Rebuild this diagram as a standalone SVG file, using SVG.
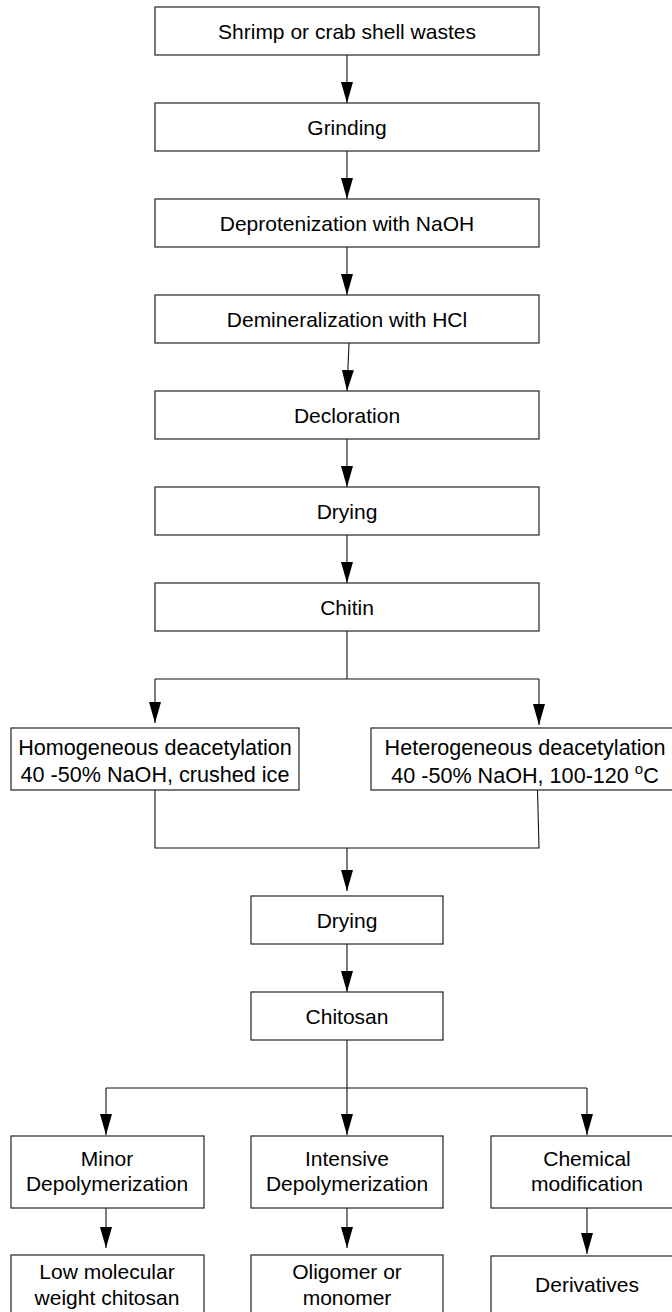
<svg xmlns="http://www.w3.org/2000/svg" width="672" height="1312" viewBox="0 0 672 1312">
<defs>
<style>
.box{fill:#fff;stroke:#333;stroke-width:1.3}
.t{font-family:"Liberation Sans",Arial,sans-serif;font-size:21px;fill:#000;text-anchor:middle}
.m{font-size:21.6px}
.c{fill:none;stroke:#111;stroke-width:1.1}
.ah{fill:#000}
</style>
<marker id="arr" markerWidth="21" markerHeight="12" refX="21" refY="6" orient="auto" markerUnits="userSpaceOnUse" viewBox="0 0 21 12">
<path d="M0,0 L21,6 L0,12 Z" class="ah"/>
</marker>
</defs>
<rect width="672" height="1312" fill="#fff"/>
<g id="connectors">
<line class="c" x1="347" y1="55" x2="347" y2="103" marker-end="url(#arr)"/>
<line class="c" x1="347" y1="151" x2="347" y2="199" marker-end="url(#arr)"/>
<line class="c" x1="347" y1="247" x2="347" y2="295" marker-end="url(#arr)"/>
<line class="c" x1="349" y1="343" x2="347" y2="391" marker-end="url(#arr)"/>
<line class="c" x1="347" y1="439" x2="347" y2="487" marker-end="url(#arr)"/>
<line class="c" x1="347" y1="535" x2="347" y2="583" marker-end="url(#arr)"/>
<polyline class="c" points="347,631 347,679"/>
<polyline class="c" points="155,679 539,679"/>
<line class="c" x1="155" y1="679" x2="155" y2="723" marker-end="url(#arr)"/>
<line class="c" x1="539" y1="679" x2="539" y2="725" marker-end="url(#arr)"/>
<polyline class="c" points="155,790 155,848 539,848 537.5,790"/>
<line class="c" x1="347" y1="848" x2="347" y2="891" marker-end="url(#arr)"/>
<line class="c" x1="347" y1="944" x2="347" y2="992" marker-end="url(#arr)"/>
<polyline class="c" points="347,1040 347,1088"/>
<polyline class="c" points="106,1088 587,1088"/>
<line class="c" x1="106" y1="1088" x2="106" y2="1135" marker-end="url(#arr)"/>
<line class="c" x1="347" y1="1088" x2="347" y2="1135" marker-end="url(#arr)"/>
<line class="c" x1="587" y1="1088" x2="587" y2="1135" marker-end="url(#arr)"/>
<line class="c" x1="106" y1="1208" x2="106" y2="1248" marker-end="url(#arr)"/>
<line class="c" x1="347" y1="1208" x2="347" y2="1248" marker-end="url(#arr)"/>
<line class="c" x1="587" y1="1208" x2="587" y2="1254" marker-end="url(#arr)"/>
</g>
<g id="n1"><rect class="box" x="155" y="7" width="384" height="48"/><text class="t" x="347" y="38.5">Shrimp or crab shell wastes</text></g>
<g id="n2"><rect class="box" x="155" y="103" width="384" height="48"/><text class="t" x="347" y="134.5">Grinding</text></g>
<g id="n3"><rect class="box" x="155" y="199" width="384" height="48"/><text class="t" x="347" y="230.5">Deprotenization with NaOH</text></g>
<g id="n4"><rect class="box" x="155" y="295" width="384" height="48"/><text class="t" x="347" y="326.5">Demineralization with HCl</text></g>
<g id="n5"><rect class="box" x="155" y="391" width="384" height="48"/><text class="t" x="347" y="422.5">Decloration</text></g>
<g id="n6"><rect class="box" x="155" y="487" width="384" height="48"/><text class="t" x="347" y="518.5">Drying</text></g>
<g id="n7"><rect class="box" x="155" y="583" width="384" height="48"/><text class="t" x="347" y="614.5">Chitin</text></g>
<g id="n8"><rect class="box" x="11" y="728" width="288" height="62"/><text class="t m" x="155" y="755">Homogeneous deacetylation</text><text class="t m" x="155" y="782">40 -50% NaOH, crushed ice</text></g>
<g id="n9"><rect class="box" x="371" y="728" width="308" height="62"/><text class="t m" x="525" y="755">Heterogeneous deacetylation</text><text class="t m" x="525" y="783">40 -50% NaOH, 100-120 <tspan font-size="15" dy="-9">o</tspan><tspan dy="9">C</tspan></text></g>
<g id="n10"><rect class="box" x="251" y="896" width="192" height="48"/><text class="t" x="347" y="927.5">Drying</text></g>
<g id="n11"><rect class="box" x="251" y="992" width="192" height="48"/><text class="t" x="347" y="1023.5">Chitosan</text></g>
<g id="n12"><rect class="box" x="11" y="1136" width="193" height="72"/><text class="t" x="107" y="1166">Minor</text><text class="t" x="107" y="1191">Depolymerization</text></g>
<g id="n13"><rect class="box" x="251" y="1136" width="192" height="72"/><text class="t" x="347" y="1166">Intensive</text><text class="t" x="347" y="1191">Depolymerization</text></g>
<g id="n14"><rect class="box" x="491" y="1136" width="192" height="72"/><text class="t" x="587" y="1166">Chemical</text><text class="t" x="587" y="1191">modification</text></g>
<g id="n15"><rect class="box" x="11" y="1255" width="193" height="70"/><text class="t" x="107" y="1279">Low molecular</text><text class="t" x="107" y="1305">weight chitosan</text></g>
<g id="n16"><rect class="box" x="251" y="1255" width="192" height="70"/><text class="t" x="347" y="1279">Oligomer or</text><text class="t" x="347" y="1305">monomer</text></g>
<g id="n17"><rect class="box" x="491" y="1256" width="192" height="70"/><text class="t" x="587" y="1292">Derivatives</text></g>
</svg>
